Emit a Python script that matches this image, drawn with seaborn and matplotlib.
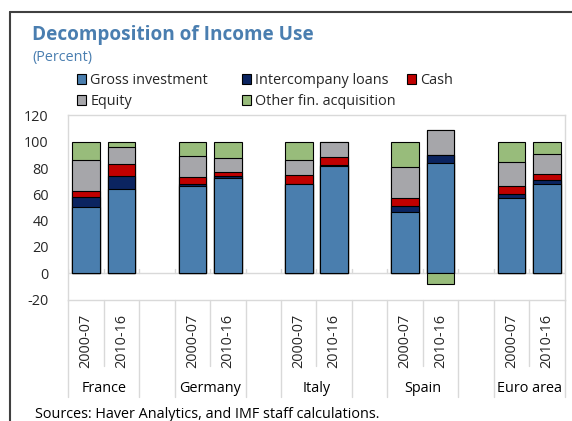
import numpy as np
import pandas as pd
import matplotlib
matplotlib.use("Agg")
import matplotlib.pyplot as plt
from matplotlib.patches import Patch
from matplotlib.lines import Line2D
import seaborn as sns

# ---------------- data ----------------
countries = ["France", "Germany", "Italy", "Spain", "Euro area"]
periods = ["2000-07", "2010-16"]
series_names = ["Gross investment", "Intercompany loans", "Cash", "Equity", "Other fin. acquisition"]
gross_investment = [50.0, 64.3, 66.3, 72.7, 67.6, 81.5, 46.3, 83.6, 57.0, 67.6]
intercompany_loans = [7.7, 9.4, 1.6, 1.5, 0.3, 0.5, 4.6, 6.1, 3.0, 3.3]
cash = [4.6, 9.1, 5.5, 2.5, 6.8, 6.6, 6.1, 0.0, 6.1, 4.3]
equity = [23.8, 12.9, 15.5, 10.7, 11.1, 10.9, 23.5, 19.4, 18.2, 15.5]
other_fin = [13.9, 4.3, 11.1, 12.6, 14.2, 0.5, 19.5, -8.3, 15.7, 9.3]
yticks = [-20, 0, 20, 40, 60, 80, 100, 120]

colors = ["#4A7EAE", "#0B2460", "#C00000", "#A6A6AA", "#98BC7B"]
title_color = "#4A7EB0"

sns.set_style("white")
plt.rcParams["font.family"] = ["Open Sans", "DejaVu Sans"]
FS = 10.4

W, H = 572, 421
fig = plt.figure(figsize=(W / 100, H / 100), dpi=100)

ax_l, ax_r, ax_t, ax_b = 68.3, 564.5, 115.4, 299.5
ax = fig.add_axes([ax_l / W, 1 - ax_b / H, (ax_r - ax_l) / W, (ax_b - ax_t) / H])

# slot order: two bars per country, a gap between countries
order = []
for ci, c in enumerate(countries):
    for p in periods:
        order.append(f"{c}|{p}")
    if ci < len(countries) - 1:
        order.append(f"gap{ci}")

keys = [f"{c}|{p}" for c in countries for p in periods]
layers = [gross_investment, intercompany_loans, cash, equity, other_fin]

# cumulative positive tops
pos = np.array([[max(v, 0) for v in layer] for layer in layers])
cum = np.cumsum(pos, axis=0)

ax.axhline(0, color="#D9D9D9", lw=1.0, zorder=0.5)

for i in range(len(layers) - 1, -1, -1):
    df = pd.DataFrame({"slot": keys, "value": cum[i]})
    sns.barplot(data=df, x="slot", y="value", order=order, color=colors[i],
                saturation=1, width=0.78, edgecolor="black", linewidth=0.8,
                errorbar=None, ax=ax, zorder=2)

# negative parts
for i, layer in enumerate(layers):
    neg = [(k, v) for k, v in zip(keys, layer) if v < 0]
    if neg:
        df = pd.DataFrame({"slot": [k for k, _ in neg], "value": [v for _, v in neg]})
        sns.barplot(data=df, x="slot", y="value", order=order, color=colors[i],
                    saturation=1, width=0.78, edgecolor="black", linewidth=0.8,
                    errorbar=None, ax=ax, zorder=2)

n = len(order)
ax.set_xlim(-0.5, n - 0.5)
ax.set_ylim(-20, 120)
ax.set_yticks(yticks)
ax.set_yticklabels([str(t) for t in yticks], fontsize=FS)
ax.tick_params(axis="y", length=0, pad=14)
ax.set_xlabel("")
ax.set_ylabel("")

labels = [s.split("|")[1] if "|" in s else "" for s in order]
ax.set_xticks(range(n))
ax.set_xticklabels(labels, rotation=90, fontsize=FS, va="top")
ax.tick_params(axis="x", length=0, pad=10)

for sp in ax.spines.values():
    sp.set_color("#D9D9D9")
    sp.set_linewidth(1.0)

# small tick marks on zero line at slot boundaries
for b in np.arange(-0.5, n, 1.0):
    ax.plot([b, b], [0, 3], color="#D9D9D9", lw=1.0, zorder=0.6)

# category separators below the plot
tr = ax.get_xaxis_transform()
ah = ax_b - ax_t
short_y = -(366 - ax_b) / ah
long_y = -(397 - ax_b) / ah
group_bounds = set()
for ci, c in enumerate(countries):
    i0 = order.index(f"{c}|{periods[0]}")
    i1 = order.index(f"{c}|{periods[1]}")
    group_bounds.update([i0 - 0.5, i1 + 0.5])
    ax.text((i0 + i1) / 2, -(388 - ax_b) / ah, c, transform=tr, ha="center",
            va="center", fontsize=FS, color="#000000")
for b in np.arange(-0.5, n, 1.0):
    yb = long_y if b in group_bounds else short_y
    ax.add_line(Line2D([b, b], [0, yb], transform=tr, color="#D9D9D9", lw=1.0, clip_on=False))

# titles
fig.text(32 / W, 1 - 35 / H, "Decomposition of Income Use", fontsize=13.7, fontweight="bold",
         color=title_color, ha="left", va="center")
fig.text(32 / W, 1 - 58 / H, "(Percent)", fontsize=FS, color=title_color, ha="left", va="center")
fig.text(35 / W, 1 - 414 / H, "Sources: Haver Analytics, and IMF staff calculations.",
         fontsize=FS, color="#000000", ha="left", va="center")

# legend entries placed individually
leg_pos = [(77, 80.5), (242, 80.5), (407, 80.5), (77, 101.5), (242, 101.5)]
for (x, y), name, col in zip(leg_pos, series_names, colors):
    h = Patch(facecolor=col, edgecolor="black", linewidth=0.8)
    fig.legend([h], [name], loc="center left", bbox_to_anchor=(x / W, 1 - y / H),
               frameon=False, fontsize=FS, handlelength=0.62, handleheight=0.62,
               handletextpad=0.3, borderpad=0, borderaxespad=0)

# outer frame (cut at right and bottom)
fig.add_artist(Line2D([10 / W, 10 / W], [0, 1 - 12 / H], transform=fig.transFigure,
                      color="#404040", lw=1.5))
fig.add_artist(Line2D([10 / W, 1], [1 - 12 / H, 1 - 12 / H], transform=fig.transFigure,
                      color="#404040", lw=1.5))

fig.savefig("out.png", dpi=100)
